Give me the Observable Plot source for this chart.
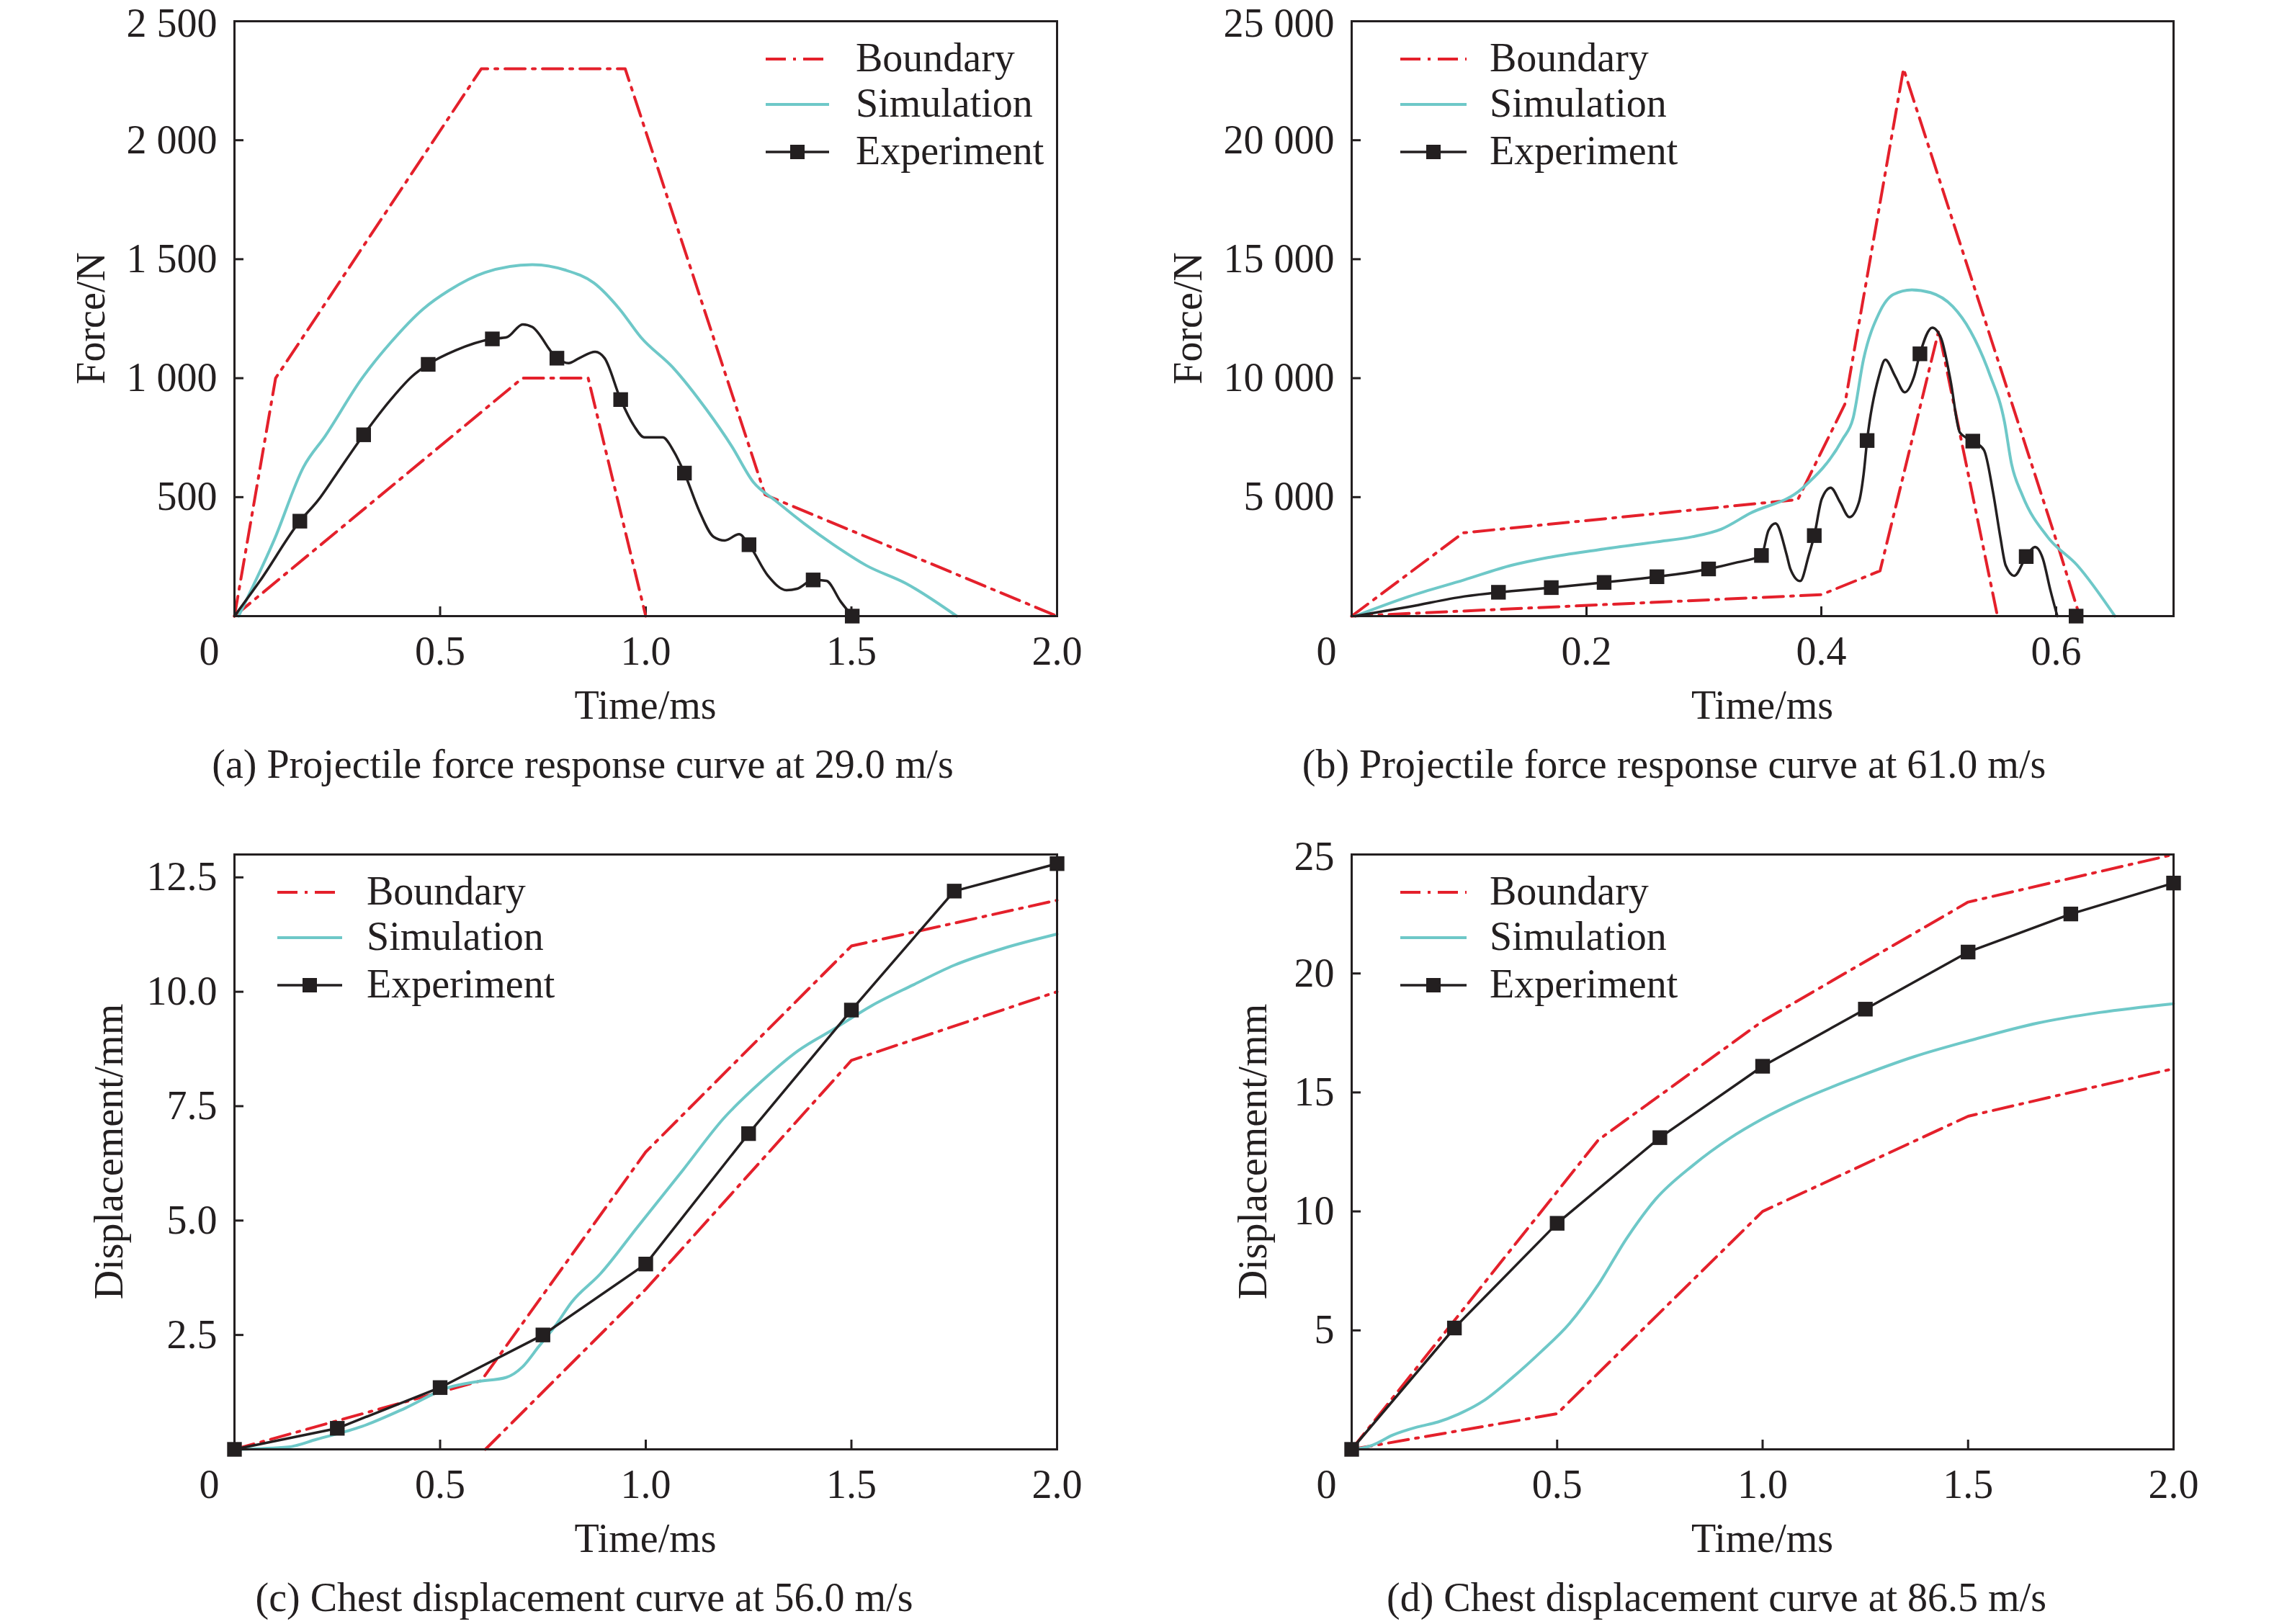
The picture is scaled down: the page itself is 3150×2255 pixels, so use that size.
<!DOCTYPE html>
<html><head><meta charset="utf-8">
<script src="https://cdn.jsdelivr.net/npm/d3@7"></script>
<script src="https://cdn.jsdelivr.net/npm/@observablehq/plot@0.6"></script>
<style>
html,body{margin:0;padding:0;background:#fff;}
#page{position:relative;width:3150px;height:2255px;background:#fff;overflow:hidden;}
#page svg{position:absolute;max-width:none;}
</style></head><body><div id="page"></div>
<script>
// ---------- Panel (a): force at 29.0 m/s ----------
const aUpper = [[0,0],[0.1,1000],[0.6,2300],[0.95,2300],[1.29,510],[2.0,0]];
const aLower = [[0,0],[0.7,1000],[0.86,1000],[1.0,0]];
const aSim = [[0.01,0],[0.097,322],[0.168,627],[0.221,758],[0.309,997],[0.38,1150],[0.459,1291],[0.521,1368],[0.609,1444],[0.724,1477],[0.803,1455],[0.874,1400],[0.936,1291],[0.988,1172],[1.068,1041],[1.148,867],[1.209,714],[1.262,562],[1.315,486],[1.386,388],[1.456,301],[1.536,213],[1.633,137],[1.756,0]];
const aExp = [[0,0],[0.062,148],[0.159,399],[0.203,486],[0.247,595],[0.314,762],[0.38,910],[0.432,1008],[0.471,1058],[0.538,1117],[0.627,1165],[0.662,1172],[0.701,1226],[0.724,1215],[0.784,1084],[0.812,1063],[0.838,1084],[0.877,1111],[0.9,1084],[0.939,910],[0.971,801],[0.997,751],[1.041,751],[1.068,693],[1.094,601],[1.13,442],[1.165,333],[1.192,318],[1.227,344],[1.251,300],[1.297,170],[1.342,109],[1.368,115],[1.407,152],[1.439,148],[1.474,61],[1.502,0]];
const aMarks = [[0.159,399],[0.314,762],[0.471,1058],[0.627,1165],[0.784,1084],[0.939,910],[1.094,601],[1.251,300],[1.407,152],[1.502,0]];
const aXTicks = [0.5,1.0,1.5,2.0];
const aXLabels = ["0.5","1.0","1.5","2.0"];
const aYTicks = [500,1000,1500,2000,2500];
const aYLabels = ["500","1 000","1 500","2 000","2 500"];

// ---------- Panel (b): force at 61.0 m/s ----------
const bUpper = [[0,0],[0.095,3500],[0.38,4900],[0.42,8900],[0.47,23000],[0.6,3200],[0.62,0]];
const bLower = [[0,0],[0.4,900],[0.45,1900],[0.5,12000],[0.55,0]];
const bSim = [[0.003,0],[0.049,828],[0.096,1524],[0.136,2134],[0.167,2461],[0.21,2787],[0.259,3114],[0.29,3332],[0.315,3659],[0.339,4312],[0.384,5380],[0.418,7424],[0.427,8305],[0.436,10805],[0.449,12712],[0.4615,13520],[0.477,13711],[0.493,13596],[0.512,13008],[0.527,11979],[0.543,10215],[0.556,8160],[0.562,6395],[0.5713,5072],[0.593,3311],[0.618,2134],[0.65,0]];
const bExp = [[0.003,0],[0.049,392],[0.096,828],[0.125,1002],[0.17,1198],[0.215,1415],[0.26,1655],[0.284,1807],[0.304,1982],[0.327,2243],[0.349,2548],[0.355,3601],[0.361,3898],[0.3705,2573],[0.3736,1989],[0.382,1474],[0.3894,2576],[0.394,3384],[0.4004,4928],[0.408,5397],[0.416,4782],[0.424,4161],[0.432,4782],[0.436,5953],[0.439,7379],[0.449,10070],[0.4545,10775],[0.463,10070],[0.471,9407],[0.479,10070],[0.484,11023],[0.4945,12124],[0.502,11681],[0.51,9920],[0.518,7717],[0.529,7354],[0.5385,6982],[0.5462,5220],[0.5525,3311],[0.557,2134],[0.5644,1695],[0.5745,2503],[0.582,2906],[0.5886,2427],[0.595,1108],[0.601,0]];
const bMarks = [[0.125,1002],[0.17,1198],[0.215,1415],[0.26,1655],[0.304,1982],[0.349,2548],[0.394,3384],[0.439,7379],[0.484,11023],[0.529,7354],[0.5745,2503],[0.617,0]];
const bXTicks = [0.2,0.4,0.6];
const bXLabels = ["0.2","0.4","0.6"];
const bYTicks = [5000,10000,15000,20000,25000];
const bYLabels = ["5 000","10 000","15 000","20 000","25 000"];

// ---------- Panel (c): displacement at 56.0 m/s ----------
const cUpper = [[0,0],[0.6,1.5],[1.0,6.5],[1.5,11.0],[2.0,12.0]];
const cLower = [[0.61,0],[1.0,3.5],[1.5,8.5],[2.0,10.0]];
const cSim = [[0.01,0],[0.13,0.05],[0.2,0.22],[0.31,0.5],[0.415,0.9],[0.52,1.35],[0.59,1.48],[0.66,1.57],[0.7,1.8],[0.74,2.25],[0.78,2.7],[0.82,3.22],[0.89,3.84],[0.98,4.86],[1.09,6.1],[1.19,7.24],[1.28,8.03],[1.37,8.71],[1.46,9.2],[1.55,9.7],[1.65,10.15],[1.75,10.58],[1.87,10.95],[2.0,11.26]];
const cExp = [[0,0],[0.25,0.46],[0.5,1.35],[0.75,2.5],[1.0,4.05],[1.25,6.9],[1.5,9.6],[1.75,12.2],[2.0,12.8]];
const cXTicks = [0.5,1.0,1.5,2.0];
const cXLabels = ["0.5","1.0","1.5","2.0"];
const cYTicks = [2.5,5.0,7.5,10.0,12.5];
const cYLabels = ["2.5","5.0","7.5","10.0","12.5"];

// ---------- Panel (d): displacement at 86.5 m/s ----------
const dUpper = [[0,0],[0.6,13],[1.0,18],[1.5,23],[2.0,25]];
const dLower = [[0,0],[0.5,1.5],[1.0,10],[1.5,14],[2.0,16]];
const dSim = [[0.01,0],[0.05,0.17],[0.1,0.6],[0.16,0.94],[0.21,1.15],[0.26,1.48],[0.32,2.03],[0.39,3.0],[0.46,4.09],[0.53,5.29],[0.6,6.92],[0.67,8.89],[0.74,10.52],[0.83,11.93],[0.92,13.07],[1.0,13.89],[1.09,14.66],[1.23,15.64],[1.37,16.51],[1.5,17.16],[1.67,17.92],[1.82,18.36],[2.0,18.73]];
const dExp = [[0,0],[0.25,5.1],[0.5,9.5],[0.75,13.1],[1.0,16.1],[1.25,18.5],[1.5,20.9],[1.75,22.5],[2.0,23.8]];
const dXTicks = [0.5,1.0,1.5,2.0];
const dXLabels = ["0.5","1.0","1.5","2.0"];
const dYTicks = [5,10,15,20,25];
const dYLabels = ["5","10","15","20","25"];

const seriesNames = ["Boundary","Simulation","Experiment"];
const captions = ["(a) Projectile force response curve at 29.0 m/s","(b) Projectile force response curve at 61.0 m/s","(c) Chest displacement curve at 56.0 m/s","(d) Chest displacement curve at 86.5 m/s"];
const yTitles = ["Force/N","Force/N","Displacement/mm","Displacement/mm"];
const xTitle = "Time/ms";

// ---------- styles ----------
const RED = "#e4202b", CYAN = "#6ec8c8", INK = "#231f20";
const DASH = "28,10,4,10";
const FONT = "'Liberation Serif','Times New Roman',serif";
const FS = 56;

const page = document.getElementById("page");

function makePanel(p) {
  const [fx0, fy0, fx1, fy1] = p.frame;
  const innerW = fx1 - fx0, innerH = fy1 - fy0;
  const X = d => d[0], Y = d => d[1];
  const fmt = (ticks, labels) => d => labels[ticks.findIndex(t => Math.abs(t - d) < 1e-9)];
  const topTick = p.yTicks[p.yTicks.length - 1];
  const touchesTop = Math.abs(topTick - p.yDomain[1]) < 1e-9;
  const yMain = touchesTop ? p.yTicks.slice(0, -1) : p.yTicks;
  const marks = [
    Plot.ruleX(p.xTickMarks, {x: d => d, stroke: INK, strokeWidth: 3, insetTop: innerH - 13}),
    Plot.ruleY(p.yTickMarks, {y: d => d, stroke: INK, strokeWidth: 3, insetRight: innerW - 13}),
    Plot.line(p.upper, {x: X, y: Y, stroke: RED, strokeWidth: 4, strokeDasharray: DASH}),
    Plot.line(p.lower, {x: X, y: Y, stroke: RED, strokeWidth: 4, strokeDasharray: DASH}),
    Plot.line(p.sim, {x: X, y: Y, stroke: CYAN, strokeWidth: 4, curve: "monotone-x"}),
    Plot.line(p.exp, {x: X, y: Y, stroke: INK, strokeWidth: 3.5, curve: p.expCurve}),
    Plot.dot(p.marks, {x: X, y: Y, symbol: "square", r: 11.5, fill: INK, stroke: null}),
    Plot.axisX(p.xTicks, {tickSize: 0, tickPadding: 28, tickFormat: fmt(p.xTicks, p.xLabels), label: null, fontSize: FS}),
    Plot.axisX([0], {tickSize: 0, tickPadding: 28, tickFormat: () => "0", label: null, dx: -35, fontSize: FS}),
    Plot.axisY(yMain, {tickSize: 0, tickPadding: 24, tickFormat: fmt(p.yTicks, p.yLabels), label: null, fontSize: FS}),
    touchesTop ? Plot.axisY([topTick], {tickSize: 0, tickPadding: 24, tickFormat: fmt(p.yTicks, p.yLabels), label: null, fontSize: FS, dy: 4}) : null,
    Plot.frame({stroke: INK, strokeWidth: 3})
  ];
  const chart = Plot.plot({
    width: p.width, height: p.height,
    marginLeft: fx0 - p.left, marginRight: p.left + p.width - fx1,
    marginTop: fy0 - p.top, marginBottom: p.top + p.height - fy1,
    x: {domain: p.xDomain},
    y: {domain: p.yDomain},
    style: {fontFamily: FONT, fontSize: FS + "px", color: INK, background: "transparent", overflow: "visible"},
    marks
  });
  chart.style.left = p.left + "px";
  chart.style.top = p.top + "px";
  page.appendChild(chart);
}

const panels = [
  {left: 0, top: 0, width: 1575, height: 1000, frame: [325, 29, 1467, 855], xDomain: [0, 2], yDomain: [0, 2500],
   xTicks: aXTicks, xLabels: aXLabels, yTicks: aYTicks, yLabels: aYLabels, xTickMarks: [0.5, 1.0, 1.5], yTickMarks: [500, 1000, 1500, 2000],
   upper: aUpper, lower: aLower, sim: aSim, exp: aExp, marks: aMarks, expCurve: "monotone-x",
   legend: {l0: 1063, l1: 1151, tx: 1188}, yTitleX: 127, caption: 809},
  {left: 1575, top: 0, width: 1575, height: 1000, frame: [1876, 29, 3017, 855], xDomain: [0, 0.7], yDomain: [0, 25000],
   xTicks: bXTicks, xLabels: bXLabels, yTicks: bYTicks, yLabels: bYLabels, xTickMarks: [0.2, 0.4, 0.6], yTickMarks: [5000, 10000, 15000, 20000],
   upper: bUpper, lower: bLower, sim: bSim, exp: bExp, marks: bMarks, expCurve: "monotone-x",
   legend: {l0: 1944, l1: 2036, tx: 2068}, yTitleX: 1650, caption: 2324},
  {left: 0, top: 1128, width: 1575, height: 1000, frame: [325, 1186, 1467, 2012], xDomain: [0, 2], yDomain: [0, 13],
   xTicks: cXTicks, xLabels: cXLabels, yTicks: cYTicks, yLabels: cYLabels, xTickMarks: [0.5, 1.0, 1.5], yTickMarks: [2.5, 5.0, 7.5, 10.0, 12.5],
   upper: cUpper, lower: cLower, sim: cSim, exp: cExp, marks: cExp, expCurve: "linear",
   legend: {l0: 385, l1: 475, tx: 509}, yTitleX: 152, caption: 811},
  {left: 1575, top: 1128, width: 1575, height: 1000, frame: [1876, 1186, 3017, 2012], xDomain: [0, 2], yDomain: [0, 25],
   xTicks: dXTicks, xLabels: dXLabels, yTicks: dYTicks, yLabels: dYLabels, xTickMarks: [0.5, 1.0, 1.5], yTickMarks: [5, 10, 15, 20],
   upper: dUpper, lower: dLower, sim: dSim, exp: dExp, marks: dExp, expCurve: "linear",
   legend: {l0: 1944, l1: 2036, tx: 2068}, yTitleX: 1740, caption: 2383}
];

panels.forEach(makePanel);

// ---------- overlay: legends, axis titles, captions ----------
const ov = d3.select(page).append("svg")
  .attr("width", 3150).attr("height", 2255)
  .style("left", "0px").style("top", "0px")
  .attr("font-family", FONT).attr("font-size", FS).attr("fill", INK);

panels.forEach((p, i) => {
  const [fx0, fy0, fx1, fy1] = p.frame;
  const g = ov.append("g");
  const rows = [fy0 + 53, fy0 + 116, fy0 + 182];
  const L = p.legend;
  g.append("line").attr("x1", L.l0).attr("x2", L.l1).attr("y1", rows[0]).attr("y2", rows[0])
    .attr("stroke", RED).attr("stroke-width", 4).attr("stroke-dasharray", DASH);
  g.append("line").attr("x1", L.l0).attr("x2", L.l1).attr("y1", rows[1]).attr("y2", rows[1])
    .attr("stroke", CYAN).attr("stroke-width", 4);
  g.append("line").attr("x1", L.l0).attr("x2", L.l1).attr("y1", rows[2]).attr("y2", rows[2])
    .attr("stroke", INK).attr("stroke-width", 3.5);
  const mid = (L.l0 + L.l1) / 2;
  g.append("rect").attr("x", mid - 10).attr("y", rows[2] - 10).attr("width", 20).attr("height", 20).attr("fill", INK);
  seriesNames.forEach((name, k) => {
    g.append("text").attr("x", L.tx).attr("y", rows[k]).attr("dy", "0.3em").text(name);
  });
  const cy = (fy0 + fy1) / 2;
  g.append("text").attr("transform", `translate(${p.yTitleX},${cy}) rotate(-90)`)
    .attr("text-anchor", "middle").attr("dy", "0.33em").text(yTitles[i]);
  g.append("text").attr("x", (fx0 + fx1) / 2).attr("y", fy0 + 951)
    .attr("text-anchor", "middle").attr("dy", "0.33em").text(xTitle);
  g.append("text").attr("x", p.caption).attr("y", fy0 + 1033)
    .attr("text-anchor", "middle").attr("dy", "0.33em").text(captions[i]);
});
</script>
</body></html>
